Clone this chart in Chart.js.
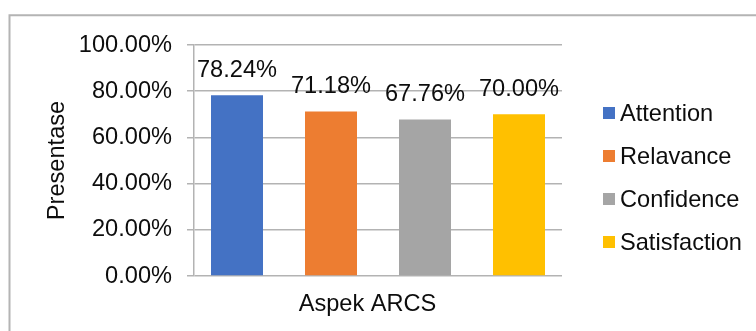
<!DOCTYPE html>
<html>
<head>
<meta charset="utf-8">
<script src="https://cdn.jsdelivr.net/npm/chart.js@4/dist/chart.umd.min.js"></script>
<style>
  html, body { margin: 0; padding: 0; background: #fff; overflow: hidden; }
  #wrap { position: relative; width: 756px; height: 331px; }
</style>
</head>
<body>
<div id="wrap"><canvas id="c" width="756" height="331"></canvas></div>
<script>
const categories = ['Aspek ARCS'];
const seriesNames = ['Attention', 'Relavance', 'Confidence', 'Satisfaction'];
const seriesValues = [78.24, 71.18, 67.76, 70.00];
const seriesColors = ['#4472C4', '#ED7D31', '#A5A5A5', '#FFC000'];
const yTicks = [0, 20, 40, 60, 80, 100];

const FONT = "'Liberation Sans', Arial, sans-serif";
const FS = 23.6;
const TXT = '#0d0d0d';
const GRID = '#b3b3b3';

const frame = {
  id: 'frame',
  beforeDraw(chart) {
    const ctx = chart.ctx;
    ctx.save();
    ctx.fillStyle = '#fff';
    ctx.fillRect(0, 0, chart.width, chart.height);
    ctx.strokeStyle = '#b4b4b4';
    ctx.lineWidth = 2;
    ctx.beginPath();
    ctx.moveTo(9.5, chart.height + 5);
    ctx.lineTo(9.5, 15.3);
    ctx.lineTo(chart.width + 5, 15.3);
    ctx.stroke();
    ctx.restore();
  }
};

const valueLabels = {
  id: 'valueLabels',
  afterDatasetsDraw(chart) {
    const ctx = chart.ctx;
    ctx.save();
    ctx.font = FS + 'px ' + FONT;
    ctx.fillStyle = TXT;
    ctx.textAlign = 'center';
    ctx.textBaseline = 'middle';
    chart.data.datasets.forEach((ds, i) => {
      const meta = chart.getDatasetMeta(i);
      meta.data.forEach((bar, j) => {
        ctx.fillText(ds.data[j].toFixed(2) + '%', bar.x, bar.y - 25);
      });
    });
    ctx.restore();
  }
};

const sideLegend = {
  id: 'sideLegend',
  afterDraw(chart) {
    const ctx = chart.ctx;
    const area = chart.chartArea;
    const n = chart.data.datasets.length;
    const step = 43;
    const mid = (area.top + area.bottom) / 2 + 17;
    const x0 = area.right + 41;
    ctx.save();
    ctx.font = FS + 'px ' + FONT;
    ctx.textBaseline = 'middle';
    ctx.textAlign = 'left';
    chart.data.datasets.forEach((ds, i) => {
      const cy = mid + (i - (n - 1) / 2) * step;
      ctx.fillStyle = ds.backgroundColor;
      ctx.fillRect(x0, cy - 6, 12, 12);
      ctx.fillStyle = TXT;
      ctx.fillText(ds.label, x0 + 17, cy + 1);
    });
    ctx.restore();
  }
};

const datasets = seriesNames.map((name, i) => ({
  label: name,
  data: [seriesValues[i]],
  backgroundColor: seriesColors[i],
  borderWidth: 0,
  categoryPercentage: 376 / 368,
  barPercentage: 52 / 94
}));

new Chart(document.getElementById('c'), {
  type: 'bar',
  data: { labels: categories, datasets },
  options: {
    responsive: false,
    animation: false,
    devicePixelRatio: 1,
    layout: { padding: { left: 0, top: 45, right: 194, bottom: 0 } },
    plugins: {
      legend: { display: false },
      tooltip: { enabled: false }
    },
    scales: {
      x: {
        grid: { display: false, drawTicks: false },
        border: { display: false },
        ticks: {
          color: TXT,
          font: { family: FONT, size: FS },
          padding: 14,
          labelOffset: -10.5
        },
        afterFit(scale) { scale.height = 55; }
      },
      y: {
        min: 0,
        max: 100,
        afterBuildTicks(scale) { scale.ticks = yTicks.map(v => ({ value: v })); },
        grid: { color: GRID, lineWidth: 1.5, tickLength: 7, drawTicks: true, tickColor: GRID },
        border: { display: true, color: GRID, width: 1.5 },
        ticks: {
          color: TXT,
          font: { family: FONT, size: FS },
          padding: 15,
          callback: v => Number(v).toFixed(2) + '%'
        },
        title: {
          display: true,
          text: 'Presentase',
          color: TXT,
          font: { family: FONT, size: FS },
          padding: { top: 43, bottom: 0 }
        },
        afterFit(scale) { scale.width = 194; }
      }
    }
  },
  plugins: [frame, valueLabels, sideLegend]
});
</script>
</body>
</html>
